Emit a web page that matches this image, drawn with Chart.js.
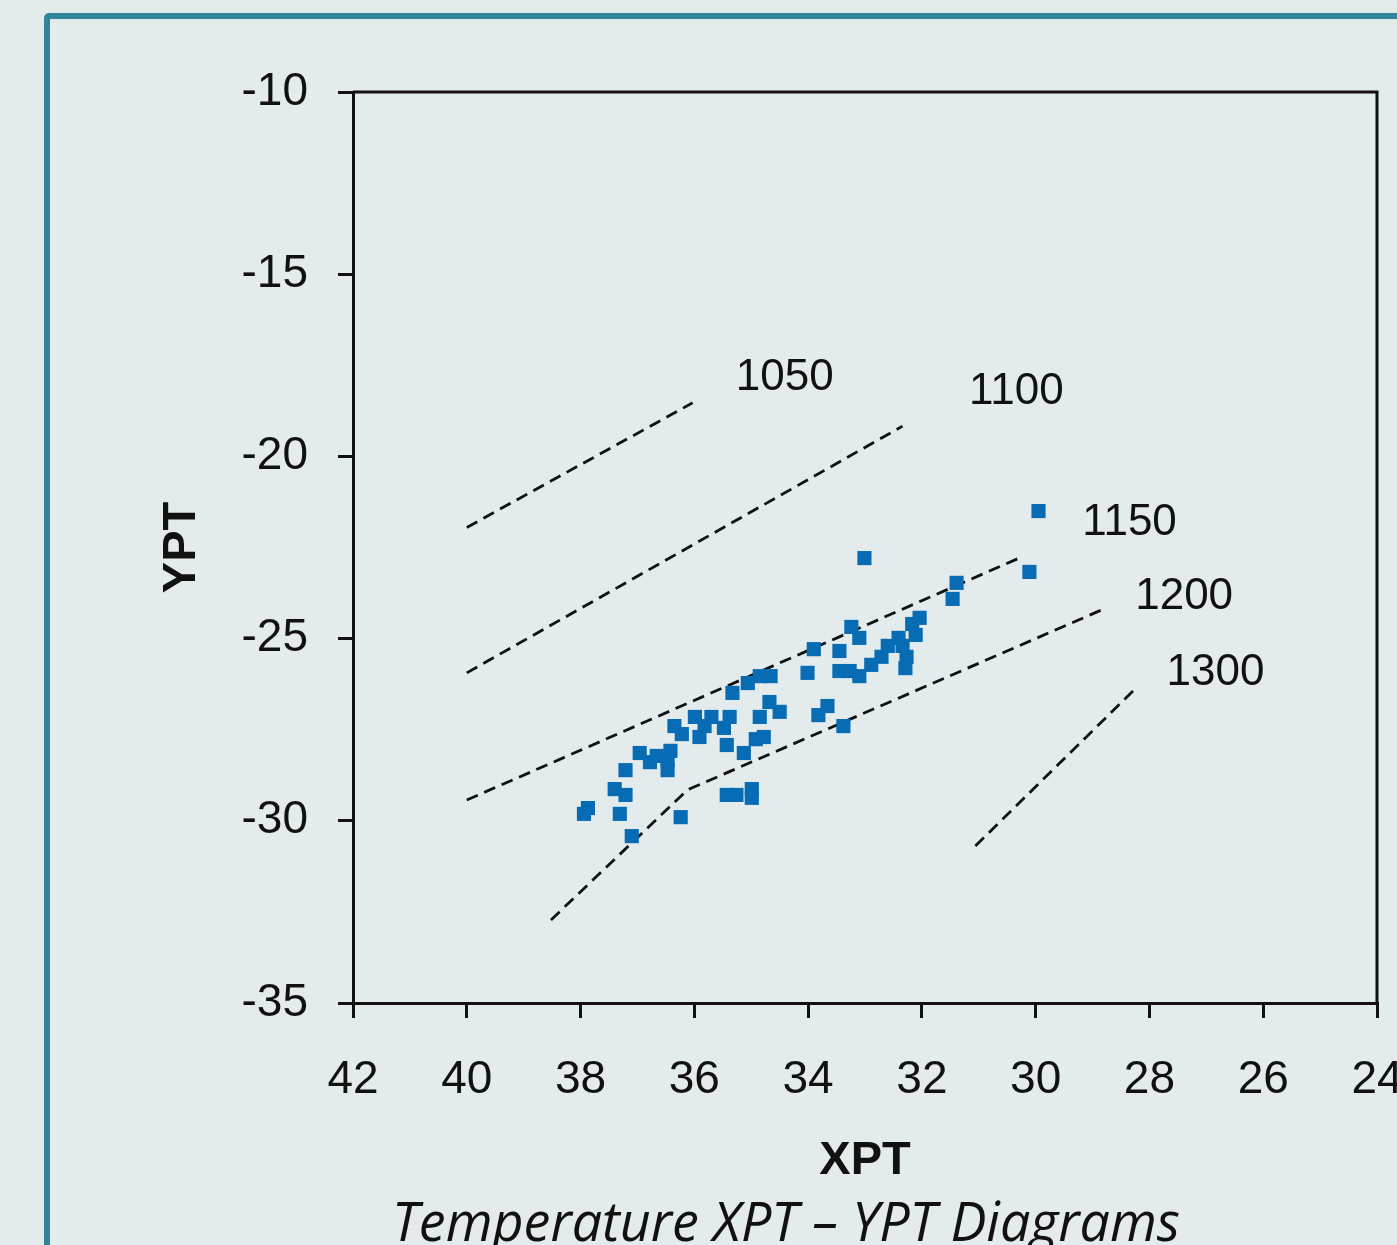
<!DOCTYPE html>
<html><head><meta charset="utf-8">
<script src="https://cdn.jsdelivr.net/npm/chart.js@4.4.1/dist/chart.umd.min.js"></script>
<style>
html,body{margin:0;padding:0;background:#e3ebed;overflow:hidden;width:1397px;height:1245px;}
#frame{position:absolute;left:44px;top:13px;width:1420px;height:1320px;border:6px solid #2f869a;border-radius:5px;box-sizing:border-box;}
#wrap{position:absolute;left:0;top:0;width:1397px;height:1245px;}
</style></head><body>
<div id="frame"></div>
<div id="wrap"><canvas id="c" width="1397" height="1245"></canvas></div>
<script>
// ---- data ----
const xTickValues = [42,40,38,36,34,32,30,28,26,24];
const yTickValues = [-35,-30,-25,-20,-15,-10];
const sampleXPT = [35.33,35.06,34.68,34.50,33.82,35.99,35.70,35.38,34.85,36.35,36.22,35.91,35.82,35.48,35.43,35.13,34.92,34.78,36.96,36.78,36.66,36.42,36.47,36.47,37.21,37.40,37.21,37.87,37.94,37.31,37.10,36.24,35.43,35.26,34.99,34.99,33.24,33.10,33.90,33.45,32.89,32.71,33.45,33.27,33.10,34.01,34.85,34.66,33.66,33.38,33.01,31.39,31.46,32.04,32.17,32.11,32.41,32.60,32.34,32.27,32.29,29.95,30.11];
const sampleYPT = [-26.49,-26.22,-26.74,-27.01,-27.10,-27.15,-27.15,-27.15,-27.15,-27.40,-27.62,-27.70,-27.40,-27.45,-27.92,-28.14,-27.76,-27.70,-28.14,-28.39,-28.22,-28.08,-28.33,-28.61,-28.61,-29.13,-29.29,-29.65,-29.81,-29.81,-30.42,-29.90,-29.29,-29.29,-29.13,-29.37,-24.68,-24.98,-25.29,-25.34,-25.72,-25.50,-25.89,-25.89,-26.03,-25.94,-26.03,-26.03,-26.85,-27.40,-22.79,-23.47,-23.91,-24.43,-24.60,-24.90,-24.98,-25.20,-25.20,-25.50,-25.81,-21.50,-23.17];
const iso1050X = [40.0, 36.03],  iso1050Y = [-21.95, -18.53];
const iso1100X = [40.0, 32.34],  iso1100Y = [-25.94, -19.17];
const iso1150X = [40.0, 30.29],  iso1150Y = [-29.43, -22.79];
const iso1200X = [38.52, 36.12, 28.85], iso1200Y = [-32.72, -29.15, -24.22];
const iso1300X = [31.06, 28.27], iso1300Y = [-30.69, -26.41];
const isoNames = ['1050','1100','1150','1200','1300'];
const isoLabelX = [34.41, 30.34, 28.35, 27.39, 26.84];
const isoLabelY = [-17.85, -18.23, -21.83, -23.86, -25.94];
const xTitle = 'XPT', yTitle = 'YPT';
const caption = 'Temperature XPT \u2013 YPT Diagrams';

// ---- build ----
const zip = (xs, ys) => xs.map((x, i) => ({x, y: ys[i]}));
const FONT = "'Liberation Sans', Arial, sans-serif";
const ink = '#111111';
const isoStyle = {type:'line', borderColor:'#111', borderWidth:2.8, borderDash:[12,7], pointRadius:0, fill:false, tension:0};
const isoSets = [[iso1050X,iso1050Y],[iso1100X,iso1100Y],[iso1150X,iso1150Y],[iso1200X,iso1200Y],[iso1300X,iso1300Y]]
  .map(([xs,ys]) => Object.assign({}, isoStyle, {data: zip(xs, ys)}));

const framePlugin = {
  id: 'frameAndText',
  beforeDatasetsDraw(chart) {
    const {ctx, chartArea: a} = chart;
    ctx.save();
    ctx.strokeStyle = ink; ctx.lineWidth = 3;
    ctx.beginPath();
    ctx.moveTo(a.left, a.top); ctx.lineTo(a.right, a.top); ctx.lineTo(a.right, a.bottom);
    ctx.stroke();
    ctx.restore();
  },
  afterDatasetsDraw(chart) {
    const {ctx, scales: {x, y}} = chart;
    ctx.save();
    ctx.fillStyle = ink;
    ctx.font = "44px " + FONT;
    ctx.textAlign = 'center'; ctx.textBaseline = 'middle';
    isoNames.forEach((t, i) => ctx.fillText(t, x.getPixelForValue(isoLabelX[i]), y.getPixelForValue(isoLabelY[i])));
    ctx.restore();
  },
  afterDraw(chart) {
    const {ctx} = chart;
    ctx.save();
    ctx.fillStyle = ink;
    ctx.font = "italic 54px 'Open Sans', sans-serif";
    const w = ctx.measureText(caption).width;
    const sx = 788 / w;
    ctx.translate(786, 1241);
    ctx.scale(sx, 1);
    ctx.textAlign = 'center'; ctx.textBaseline = 'alphabetic';
    ctx.fillText(caption, 0, 0);
    ctx.restore();
  }
};

new Chart(document.getElementById('c'), {
  data: {
    datasets: [
      {type:'scatter', data: zip(sampleXPT, sampleYPT), backgroundColor:'#076cb4', borderWidth:0, pointStyle:'rect', pointRadius:10, pointHoverRadius:10},
      ...isoSets
    ]
  },
  options: {
    responsive: false, animation: false,
    layout: {padding: {left:150, top:92, right:20, bottom:41}},
    plugins: {legend:{display:false}, tooltip:{enabled:false}},
    scales: {
      x: {
        type:'linear', reverse:true, min:24, max:42,
        afterBuildTicks: s => { s.ticks = xTickValues.map(v => ({value:v})); },
        afterFit: s => { s.height = 201; s.paddingLeft = 0; s.paddingRight = 0; },
        border: {display:true, color:ink, width:3},
        grid: {drawOnChartArea:false, drawTicks:true, tickLength:15, color:ink, lineWidth:3},
        ticks: {color:ink, font:{family:FONT, size:46}, padding:35, maxRotation:0, autoSkip:false},
        title: {display:true, text:xTitle, color:ink, font:{family:FONT, size:47, weight:'bold'}, padding:{top:0, bottom:15}}
      },
      y: {
        type:'linear', min:-35, max:-10,
        afterBuildTicks: s => { s.ticks = yTickValues.map(v => ({value:v})); },
        afterFit: s => { s.width = 203; s.paddingTop = 0; s.paddingBottom = 0; },
        border: {display:true, color:ink, width:3},
        grid: {drawOnChartArea:false, drawTicks:true, tickLength:15, color:ink, lineWidth:3},
        ticks: {color:ink, font:{family:FONT, size:46}, padding:30, autoSkip:false},
        title: {display:true, text:yTitle, color:ink, font:{family:FONT, size:47, weight:'bold'}, padding:{top:4, bottom:0}}
      }
    }
  },
  plugins: [framePlugin]
});
</script>
</body></html>
